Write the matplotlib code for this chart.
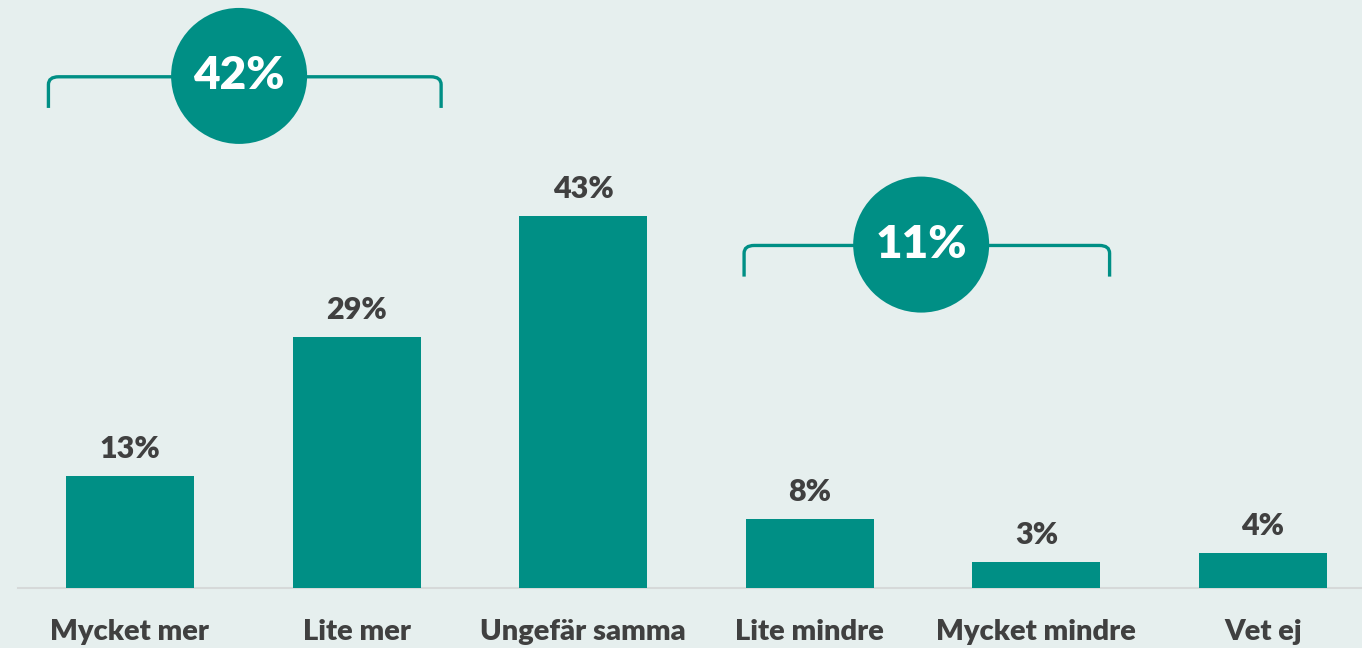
import matplotlib
matplotlib.use("Agg")
import matplotlib.pyplot as plt
from matplotlib.path import Path
from matplotlib.patches import PathPatch

categories = ["Mycket mer", "Lite mer", "Ungefär samma", "Lite mindre", "Mycket mindre", "Vet ej"]
values = [13, 29, 43, 8, 3, 4]
value_labels = ["13%", "29%", "43%", "8%", "3%", "4%"]
group_spans = [(0, 1), (3, 4)]
group_labels = ["42%", "11%"]

TEAL = "#008F85"
BG = "#E6EFEE"
TXT = "#404040"

W, H = 1362, 648
fig = plt.figure(figsize=(W / 100, H / 100), dpi=100, facecolor=BG)
ax = fig.add_axes([0, 0, 1, 1])
ax.set_facecolor(BG)

px_x = 226.6   # px per category
px_y = 8.65    # px per percent
x0_px, base_px = 130, 588
ax.set_xlim(-x0_px / px_x, (W - x0_px) / px_x)
ax.set_ylim(-(H - base_px) / px_y, base_px / px_y)
ax.axis("off")

xs = list(range(len(categories)))
ax.bar(xs, values, width=0.565, color=TEAL, zorder=2)
ax.axhline(0, xmin=18 / W, xmax=1, color="#D6D9D9", lw=1.5, zorder=1)

font = "Lato"
for x, v, lab in zip(xs, values, value_labels):
    ax.annotate(lab, (x, v), xytext=(0, 18), textcoords="offset pixels",
                ha="center", va="baseline", fontsize=22, fontweight="heavy",
                color=TXT, family=font)
for x, c in zip(xs, categories):
    ax.text(x, -5.1, c, ha="center", va="center", fontsize=21,
            fontweight="heavy", color=TXT, family=font)

# brackets with circles
bracket_y = [59.1, 39.6]
drop = 3.6
pads = [(0.36, 0.09), (0.29, 0.04)]
for (a, b), lab, yl, (pl, pr) in zip(group_spans, group_labels, bracket_y, pads):
    xl = a - pl
    xr = b + 0.283 + pr
    cx_ = 0.045
    cy_ = 0.9
    verts = [(xl, yl - drop), (xl, yl - cy_), (xl, yl), (xl + cx_, yl),
             (xr - cx_, yl), (xr, yl), (xr, yl - cy_), (xr, yl - drop)]
    codes = [Path.MOVETO, Path.LINETO, Path.CURVE3, Path.CURVE3,
             Path.LINETO, Path.CURVE3, Path.CURVE3, Path.LINETO]
    ax.add_patch(PathPatch(Path(verts, codes), fill=False, edgecolor=TEAL,
                           lw=2.4, capstyle="butt", zorder=3))
    cxm = (xl + xr) / 2 - 0.025
    ax.scatter([cxm], [yl + 0.1], s=(136 * 0.72) ** 2, color=TEAL, zorder=4,
               edgecolors="none")
    ax.text(cxm, yl + 0.1, lab, ha="center", va="center", fontsize=33,
            fontweight="heavy", color="white", family=font, zorder=5)

fig.savefig("out.png", dpi=100, facecolor=BG)
